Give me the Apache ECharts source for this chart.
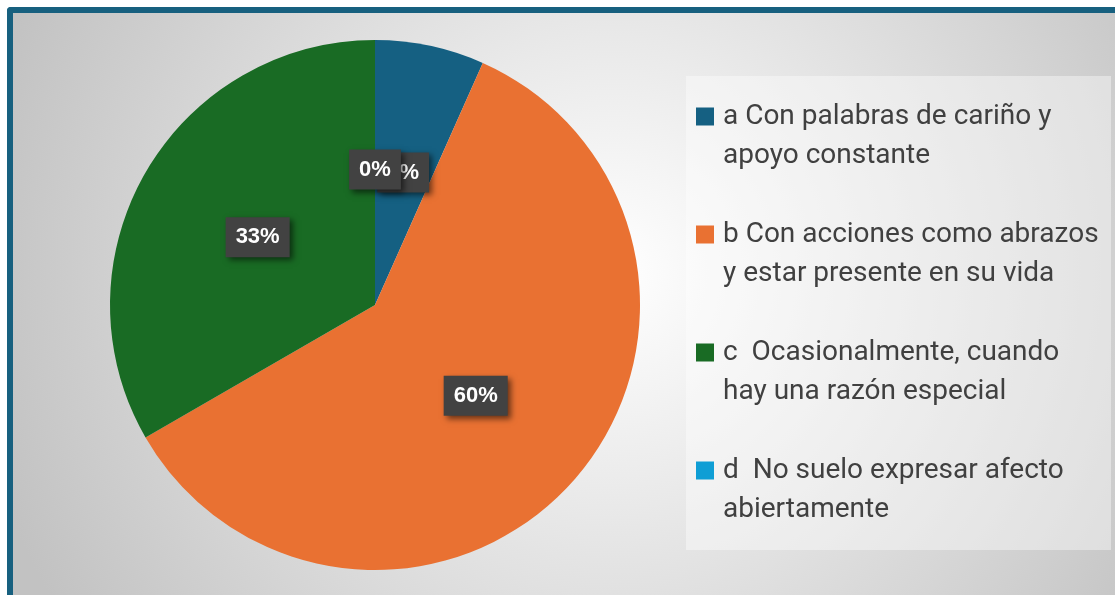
<!DOCTYPE html>
<html>
<head>
<meta charset="utf-8">
<script src="https://cdn.jsdelivr.net/npm/echarts@6/dist/echarts.min.js"></script>
<style>
  html, body { margin: 0; padding: 0; background: #ffffff; overflow: hidden; }
  #chart {
    position: absolute;
    left: 7px;
    top: 7px;
    width: 1110px;
    height: 590px;
    border-left: 6px solid #17607f;
    border-top: 6px solid #17607f;
    border-top-left-radius: 4px;
  }
</style>
</head>
<body>
<div id="chart"></div>
<script>
  // datos (30 respuestas)
  var categories = [
    'a Con palabras de cariño y\napoyo constante',
    'b Con acciones como abrazos\ny estar presente en su vida',
    'c  Ocasionalmente, cuando\nhay una razón especial',
    'd  No suelo expresar afecto\nabiertamente'
  ];
  var values = [2, 18, 10, 0];
  var colors = ['#156082', '#E97132', '#196B24', '#0F9ED5'];

  var chart = echarts.init(document.getElementById('chart'));

  var pieData = categories.map(function (name, i) {
    return { name: name, value: values[i] };
  });

  var options = {
    animation: false,
    color: colors,
    backgroundColor: {
      type: 'radial',
      x: 600, y: 260, r: 650,
      global: true,
      colorStops: [
        { offset: 0, color: '#ffffff' },
        { offset: 1, color: '#c2c2c2' }
      ]
    },
    graphic: [{
      type: 'rect',
      silent: true,
      shape: { x: 673, y: 63, width: 425, height: 474 },
      style: { fill: 'rgba(255,255,255,0.4)' }
    }],
    legend: {
      orient: 'vertical',
      left: 683,
      top: 45,
      padding: 0,
      itemGap: 1,
      icon: 'rect',
      itemWidth: 18,
      itemHeight: 18,
      selectedMode: false,
      // linea vacia arriba para que el cuadro quede junto a la primera linea
      formatter: function (name) { return '\n' + name; },
      textStyle: {
        fontFamily: 'Roboto',
        fontSize: 28,
        lineHeight: 39,
        color: '#404040',
        padding: [0, 0, 0, 4]
      },
      data: categories
    },
    series: [{
      type: 'pie',
      center: [362, 292],
      radius: 265,
      startAngle: 90,
      clockwise: true,
      avoidLabelOverlap: false,
      minShowLabelAngle: 0,
      labelLayout: { hideOverlap: false },
      emphasis: { disabled: true },
      itemStyle: { borderWidth: 0 },
      label: {
        show: true,
        position: 'inside',
        formatter: function (p) { return Math.round(p.percent) + '%'; },
        fontFamily: 'Liberation Sans, Arial',
        fontWeight: 'bold',
        fontSize: 22,
        color: '#ffffff',
        backgroundColor: '#424242',
        padding: [9, 10],
        shadowColor: 'rgba(0,0,0,0.55)',
        shadowBlur: 6,
        shadowOffsetX: 3,
        shadowOffsetY: 3
      },
      labelLine: { show: false },
      data: pieData
    }]
  };

  chart.setOption(options);
</script>
</body>
</html>
